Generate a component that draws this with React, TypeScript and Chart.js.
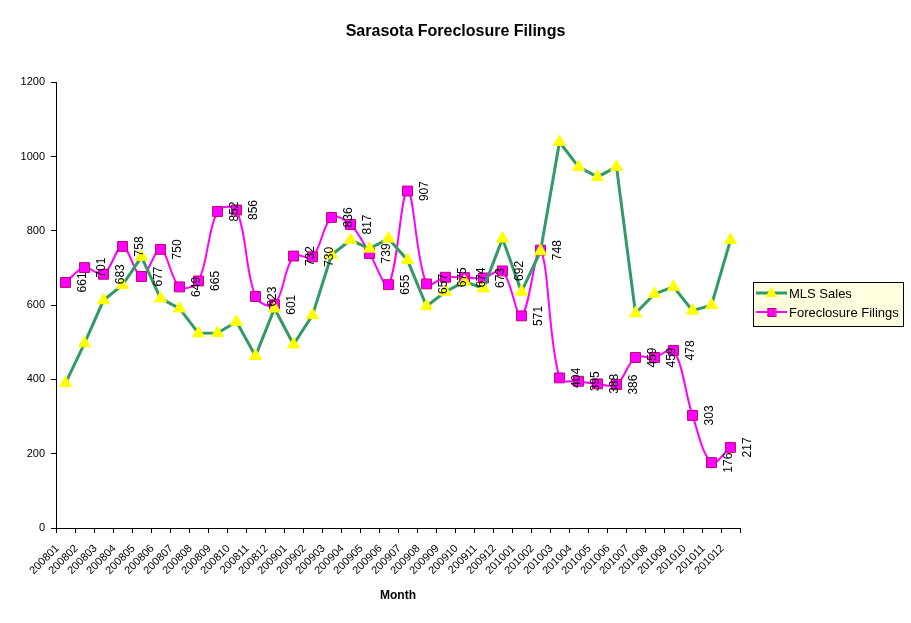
import React, { useEffect, useRef } from "react";
import { Chart, registerables } from "chart.js";

Chart.register(...registerables);

const months = [
  "200801", "200802", "200803", "200804", "200805", "200806", "200807", "200808", "200809", "200810", "200811", "200812",
  "200901", "200902", "200903", "200904", "200905", "200906", "200907", "200908", "200909", "200910", "200911", "200912",
  "201001", "201002", "201003", "201004", "201005", "201006", "201007", "201008", "201009", "201010", "201011", "201012",
];

const mlsSales = [
  390, 497, 613, 654, 730, 618, 591, 524, 525, 555, 463, 591,
  494, 573, 735, 775, 752, 779, 721, 597, 636, 663, 645, 779,
  636, 745, 1039, 972, 945, 972, 578, 630, 649, 585, 600, 775,
];

const foreclosureFilings = [
  661, 701, 683, 758, 677, 750, 649, 665, 852, 856, 623, 601,
  732, 730, 836, 817, 739, 655, 907, 657, 675, 674, 673, 692,
  571, 748, 404, 395, 388, 386, 459, 459, 478, 303, 176, 217,
];

const yMin = 0;
const yMax = 1200;
const yStep = 200;

const seriesNames = ["MLS Sales", "Foreclosure Filings"];
const chartTitle = "Sarasota Foreclosure Filings";
const xTitle = "Month";

const FONT = "Arial, 'Liberation Sans', Helvetica, sans-serif";
const GREEN = "#339966";
const MAGENTA = "#FF00FF";
const YELLOW = "#FFFF00";
const SQUARE_BORDER = "#C00070";

const rotatedLabelsPlugin = {
  id: "rotatedLabels",
  afterDatasetsDraw(chart: any) {
    const meta = chart.getDatasetMeta(1);
    const data = chart.data.datasets[1].data as number[];
    const ctx = chart.ctx;
    ctx.save();
    ctx.font = `12px ${FONT}`;
    ctx.fillStyle = "#000";
    ctx.textAlign = "center";
    ctx.textBaseline = "middle";
    meta.data.forEach((pt: any, i: number) => {
      ctx.save();
      ctx.translate(pt.x + 17, pt.y);
      ctx.rotate(-Math.PI / 2);
      ctx.fillText(String(data[i]), 0, 0);
      ctx.restore();
    });
    ctx.restore();
  },
};

const boxLegendPlugin = {
  id: "boxLegend",
  afterDraw(chart: any) {
    const ctx = chart.ctx;
    const area = chart.chartArea;
    const x = area.right + 13;
    const w = 150;
    const h = 44;
    const cy = (area.top + area.bottom) / 2;
    const y = Math.round(cy - h / 2) - 1;
    ctx.save();
    ctx.fillStyle = "#FFFFE0";
    ctx.fillRect(x, y, w, h);
    ctx.strokeStyle = "#000";
    ctx.lineWidth = 1;
    ctx.strokeRect(Math.round(x) + 0.5, y + 0.5, w, h);

    const rows = [y + 11, y + 30];
    // MLS Sales symbol
    ctx.strokeStyle = GREEN;
    ctx.lineWidth = 3;
    ctx.beginPath();
    ctx.moveTo(x + 3, rows[0]);
    ctx.lineTo(x + 34, rows[0]);
    ctx.stroke();
    const tx = x + 18.5;
    ctx.fillStyle = YELLOW;
    ctx.beginPath();
    ctx.moveTo(tx, rows[0] - 6);
    ctx.lineTo(tx + 6, rows[0] + 4);
    ctx.lineTo(tx - 6, rows[0] + 4);
    ctx.closePath();
    ctx.fill();
    // Foreclosure symbol
    ctx.strokeStyle = MAGENTA;
    ctx.lineWidth = 2;
    ctx.beginPath();
    ctx.moveTo(x + 3, rows[1]);
    ctx.lineTo(x + 34, rows[1]);
    ctx.stroke();
    ctx.fillStyle = MAGENTA;
    ctx.fillRect(tx - 4, rows[1] - 4, 8, 8);
    ctx.strokeStyle = SQUARE_BORDER;
    ctx.lineWidth = 1;
    ctx.strokeRect(tx - 4 + 0.5, rows[1] - 4 + 0.5, 8, 8);

    ctx.fillStyle = "#000";
    ctx.font = `13px ${FONT}`;
    ctx.textAlign = "left";
    ctx.textBaseline = "middle";
    ctx.fillText(seriesNames[0], x + 36, rows[0] + 1);
    ctx.fillText(seriesNames[1], x + 36, rows[1] + 1);
    ctx.restore();
  },
};

export default function App() {
  const canvasRef = useRef<HTMLCanvasElement | null>(null);

  useEffect(() => {
    if (!canvasRef.current) return;
    const chart = new Chart(canvasRef.current, {
      type: "line",
      data: {
        labels: months,
        datasets: [
          {
            label: seriesNames[0],
            data: mlsSales,
            borderColor: GREEN,
            borderWidth: 3,
            tension: 0,
            pointStyle: "triangle",
            pointRadius: 7,
            pointBackgroundColor: YELLOW,
            pointBorderColor: YELLOW,
            pointBorderWidth: 1,
            fill: false,
            yAxisID: "y",
          },
          {
            label: seriesNames[1],
            data: foreclosureFilings,
            borderColor: MAGENTA,
            borderWidth: 2,
            tension: 0.35,
            pointStyle: "rect",
            pointRadius: 7,
            pointBackgroundColor: MAGENTA,
            pointBorderColor: SQUARE_BORDER,
            pointBorderWidth: 1,
            fill: false,
            yAxisID: "y",
          },
        ],
      },
      options: {
        animation: false,
        responsive: true,
        maintainAspectRatio: false,
        layout: { padding: 0 },
        plugins: {
          legend: { display: false },
          tooltip: { enabled: false },
          title: {
            display: true,
            text: chartTitle,
            color: "#000",
            font: { family: FONT, size: 16, weight: "bold" },
            padding: { top: 22, bottom: 41 },
          },
        },
        scales: {
          x: {
            offset: true,
            grid: { offset: true, drawOnChartArea: false, drawTicks: true, tickLength: 5, color: "#000" },
            border: { color: "#000", width: 1 },
            ticks: {
              autoSkip: false,
              maxRotation: 45,
              minRotation: 45,
              color: "#000",
              font: { family: FONT, size: 11 },
              padding: 9,
              labelOffset: -8,
            },
            title: {
              display: true,
              text: xTitle,
              color: "#000",
              font: { family: FONT, size: 12, weight: "bold" },
              padding: { top: 0, bottom: 20 },
            },
            afterFit(scale: any) {
              scale.height = 95;
            },
          },
          y: {
            min: yMin,
            max: yMax,
            grid: { drawOnChartArea: false, drawTicks: true, tickLength: 5, color: "#000" },
            border: { color: "#000", width: 1 },
            ticks: {
              stepSize: yStep,
              color: "#000",
              font: { family: FONT, size: 11 },
              padding: 6,
              callback: (v: any) => String(v),
            },
            afterFit(scale: any) {
              scale.width = 56;
            },
          },
          legendSpace: {
            type: "linear",
            position: "right",
            display: true,
            grid: { display: false, drawTicks: false },
            border: { display: false },
            ticks: { display: false },
            afterFit(scale: any) {
              scale.width = 171;
            },
          },
        },
      },
      plugins: [rotatedLabelsPlugin, boxLegendPlugin],
    });
    return () => chart.destroy();
  }, []);

  return (
    <div style={{ position: "fixed", left: 0, top: 0, width: 911, height: 623, background: "#fff" }}>
      <canvas ref={canvasRef} />
    </div>
  );
}
